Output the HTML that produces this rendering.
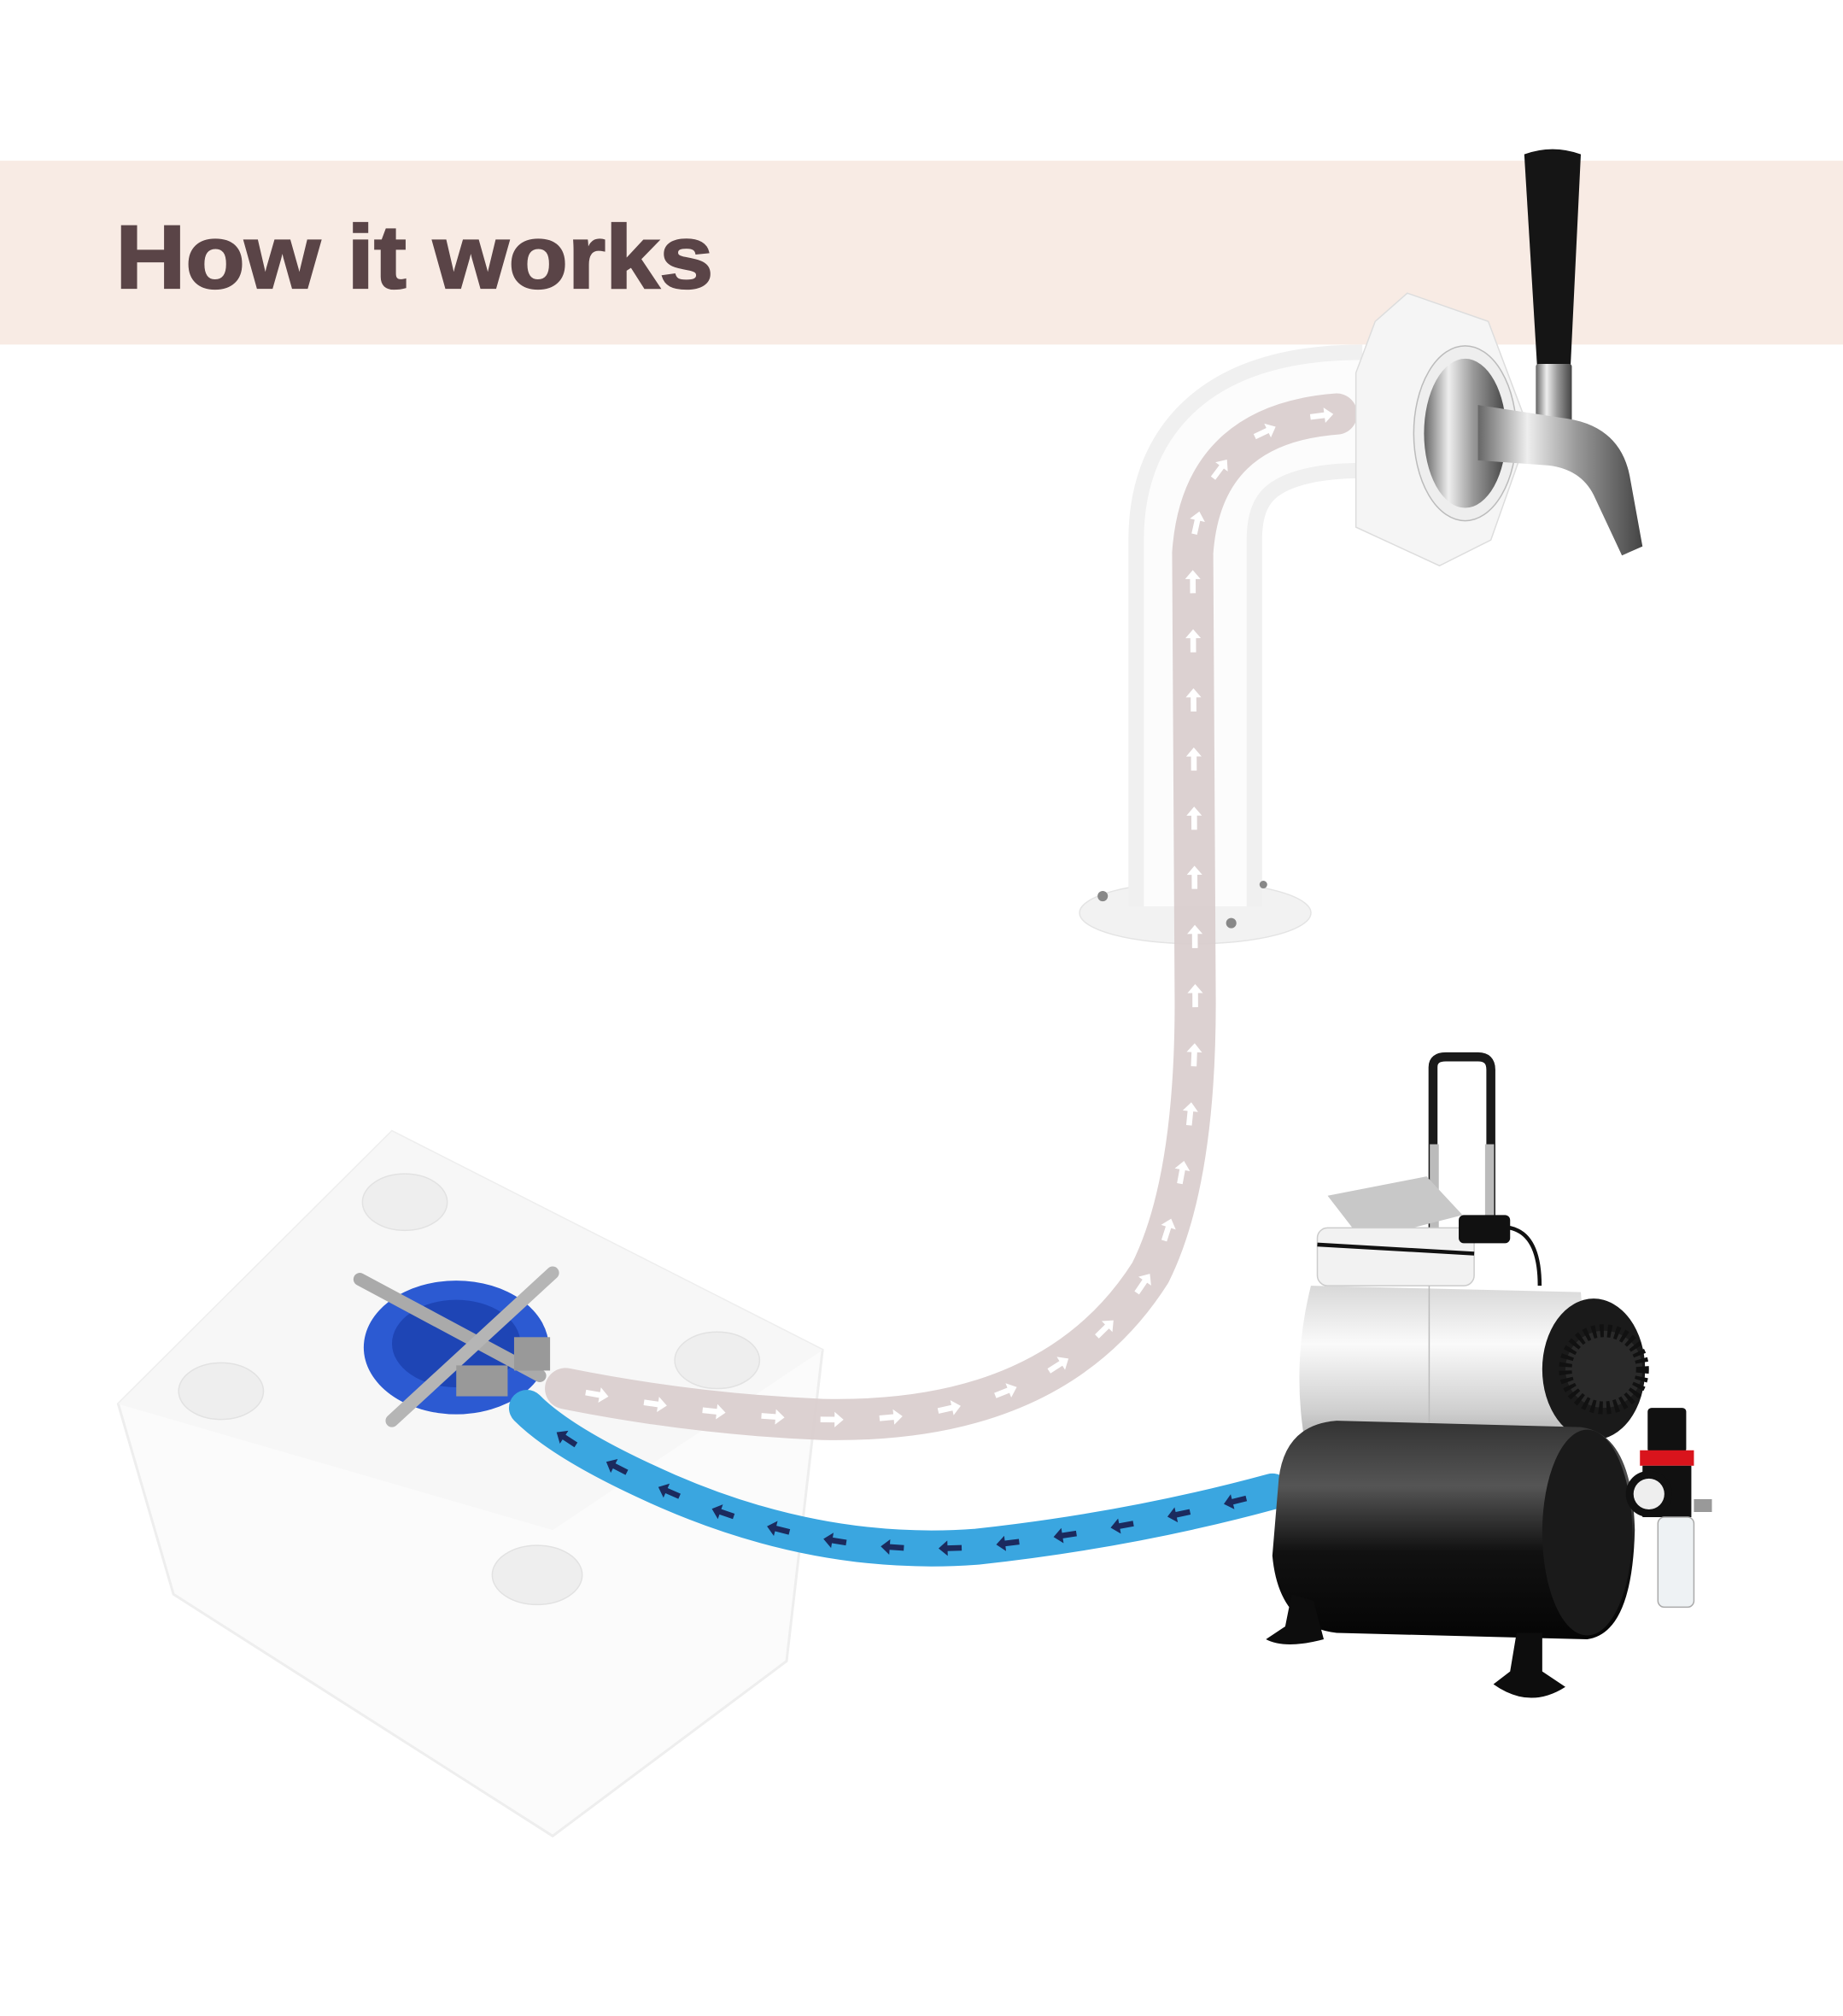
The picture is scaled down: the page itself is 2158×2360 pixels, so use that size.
<!DOCTYPE html>
<html><head><meta charset="utf-8"><style>
html,body{margin:0;padding:0;background:#fff;}
svg{display:block;}
</style></head><body>
<svg id="s" width="2158" height="2360" viewBox="0 0 1434 1568" preserveAspectRatio="none" xmlns="http://www.w3.org/2000/svg">
<defs>
<linearGradient id="chromeH" x1="0" y1="0" x2="1" y2="0"><stop offset="0" stop-color="#666"/><stop offset="0.3" stop-color="#eee"/><stop offset="0.6" stop-color="#999"/><stop offset="1" stop-color="#444"/></linearGradient>
<linearGradient id="silver" x1="0" y1="0" x2="0" y2="1"><stop offset="0" stop-color="#d8d8d8"/><stop offset="0.35" stop-color="#fafafa"/><stop offset="0.75" stop-color="#cfcfcf"/><stop offset="1" stop-color="#a5a5a5"/></linearGradient>
<linearGradient id="tank" x1="0" y1="0" x2="0" y2="1"><stop offset="0" stop-color="#333"/><stop offset="0.3" stop-color="#555"/><stop offset="0.6" stop-color="#111"/><stop offset="1" stop-color="#050505"/></linearGradient>
</defs>
<rect x="0" y="125" width="1434" height="143" fill="#f8ebe4"/>
<text x="90" y="224" font-family="Liberation Sans, sans-serif" font-weight="bold" font-size="70" fill="#5a4447" textLength="465" lengthAdjust="spacingAndGlyphs" stroke="#5a4447" stroke-width="1.5">How it works</text>

<!-- box -->
<polygon points="92,1092 305,880 640,1050 612,1292 430,1428 135,1240" fill="#fbfbfb" stroke="#eeeeee" stroke-width="2"/>
<polygon points="92,1092 305,880 640,1050 430,1190" fill="#f7f7f7"/>
<ellipse cx="315" cy="935" rx="33" ry="22" fill="#eee" stroke="#e2e2e2"/>
<ellipse cx="172" cy="1082" rx="33" ry="22" fill="#eee" stroke="#e2e2e2"/>
<ellipse cx="558" cy="1058" rx="33" ry="22" fill="#eee" stroke="#e2e2e2"/>
<ellipse cx="418" cy="1225" rx="35" ry="23" fill="#eee" stroke="#e2e2e2"/>

<!-- tower pipe -->
<ellipse cx="930" cy="710" rx="90" ry="24" fill="#f2f2f2" stroke="#e4e4e4"/>
<path d="M930,705 L930,420 Q930,320 1060,320" fill="none" stroke="#f0f0f0" stroke-width="104"/>
<path d="M930,705 L930,420 Q930,320 1060,320" fill="none" stroke="#fcfcfc" stroke-width="80"/>
<circle cx="858" cy="697" r="4" fill="#888"/><circle cx="958" cy="718" r="4" fill="#888"/><circle cx="983" cy="688" r="3" fill="#888"/>

<!-- gray flow track -->
<path id="g" d="M440,1080 Q540,1100 640,1104 Q820,1108 895,990 Q930,920 930,780 L928,430 Q935,330 1040,322" fill="none" stroke="#d8cccc" stroke-opacity="0.9" stroke-width="32" stroke-linecap="round"/>

<!-- hex nut -->
<polygon points="1095,228 1158,250 1190,335 1160,420 1120,440 1055,410 1055,290 1070,250" fill="#f5f5f5" stroke="#ddd"/>
<ellipse cx="1140" cy="337" rx="40" ry="68" fill="#eee" stroke="#bbb"/>
<ellipse cx="1140" cy="337" rx="32" ry="58" fill="url(#chromeH)"/>
<!-- tap -->
<path d="M1186,120 Q1208,112 1230,120 L1222,285 L1196,285 Z" fill="#151515"/>
<rect x="1195" y="283" width="28" ry="2" height="70" fill="url(#chromeH)"/>
<path d="M1150,315 L1215,325 Q1260,330 1268,370 L1278,425 L1262,432 L1240,385 Q1230,365 1205,362 L1150,358 Z" fill="url(#chromeH)"/>

<!-- blue cap & wrench -->
<ellipse cx="355" cy="1048" rx="72" ry="52" fill="#2c5ad2"/>
<ellipse cx="355" cy="1045" rx="50" ry="34" fill="#1e45b5"/>
<line x1="280" y1="995" x2="420" y2="1070" stroke="#aaa" stroke-width="10" stroke-linecap="round"/>
<line x1="430" y1="990" x2="305" y2="1105" stroke="#b5b5b5" stroke-width="10" stroke-linecap="round"/>
<rect x="400" y="1040" width="28" height="26" fill="#999"/>
<rect x="355" y="1062" width="40" height="24" fill="#999"/>

<!-- blue hose -->
<path id="b" d="M990,1160 Q880,1190 760,1203 Q640,1212 520,1160 Q440,1125 410,1095" fill="none" stroke="#3aa6e0" stroke-width="28" stroke-linecap="round"/>

<!-- compressor -->
<path d="M1115,960 L1115,830 Q1115,822 1125,822 L1150,822 Q1160,822 1160,832 L1160,960" fill="none" stroke="#1a1a1a" stroke-width="7"/>
<line x1="1116" y1="890" x2="1116" y2="960" stroke="#bbb" stroke-width="7"/>
<line x1="1159" y1="890" x2="1159" y2="960" stroke="#bbb" stroke-width="7"/>
<polygon points="1033,930 1110,915 1138,945 1060,965" fill="#c8c8c8"/>
<rect x="1025" y="955" width="122" height="45" rx="8" fill="#f2f2f2" stroke="#ccc"/>
<line x1="1025" y1="968" x2="1147" y2="975" stroke="#111" stroke-width="3"/>
<path d="M1145,958 L1175,955 Q1198,960 1198,1000" fill="none" stroke="#111" stroke-width="3"/>
<rect x="1135" y="945" width="40" height="22" rx="4" fill="#111"/>
<path d="M1020,1000 L1230,1005 L1240,1130 L1015,1120 Q1005,1060 1020,1000 Z" fill="url(#silver)"/>
<line x1="1112" y1="1000" x2="1112" y2="1120" stroke="#bbb"/>
<ellipse cx="1240" cy="1065" rx="40" ry="55" fill="#1a1a1a"/>
<circle cx="1248" cy="1065" r="30" fill="#2a2a2a" stroke="#111" stroke-dasharray="3 3" stroke-width="10"/>
<path d="M995,1150 Q1000,1108 1040,1105 L1230,1110 Q1270,1115 1272,1190 Q1270,1270 1235,1275 L1040,1270 Q995,1265 990,1210 Z" fill="url(#tank)"/>
<ellipse cx="1235" cy="1192" rx="35" ry="80" fill="#1a1a1a"/>
<path d="M1005,1240 L1000,1265 L985,1275 Q1000,1283 1030,1275 L1022,1245 Z" fill="#0d0d0d"/>
<path d="M1180,1270 L1175,1300 L1162,1310 Q1190,1330 1218,1312 L1200,1300 L1200,1270 Z" fill="#0d0d0d"/>
<rect x="1282" y="1095" width="30" height="35" rx="3" fill="#111"/>
<rect x="1276" y="1128" width="42" height="12" fill="#d9141c"/>
<rect x="1278" y="1140" width="38" height="40" fill="#111"/>
<circle cx="1283" cy="1162" r="18" fill="#111"/><circle cx="1283" cy="1162" r="12" fill="#eee"/>
<rect x="1290" y="1180" width="28" height="70" rx="5" fill="#eef2f4" stroke="#aaa"/>
<rect x="1318" y="1166" width="14" height="10" fill="#999"/>

<g id="ga"></g><g id="ba"></g>
</svg>
<script>
function arrows(pid,gid,color,step,start){
 var p=document.getElementById(pid),g=document.getElementById(gid),L=p.getTotalLength();
 for(var s=start;s<L-10;s+=step){
  var a=p.getPointAtLength(s),b=p.getPointAtLength(s+2);
  var ang=Math.atan2(b.y-a.y,b.x-a.x)*180/Math.PI;
  var e=document.createElementNS("http://www.w3.org/2000/svg","path");
  e.setAttribute("d","M-9,-2.2 L2,-2.2 L2,-6 L9,0 L2,6 L2,2.2 L-9,2.2 Z");
  e.setAttribute("fill",color);
  e.setAttribute("transform","translate("+a.x+","+a.y+") rotate("+ang+")");
  g.appendChild(e);
 }
}
arrows("g","ga","#ffffff",46,25);
arrows("b","ba","#1b2a5e",45,30);
</script>
</body></html>
